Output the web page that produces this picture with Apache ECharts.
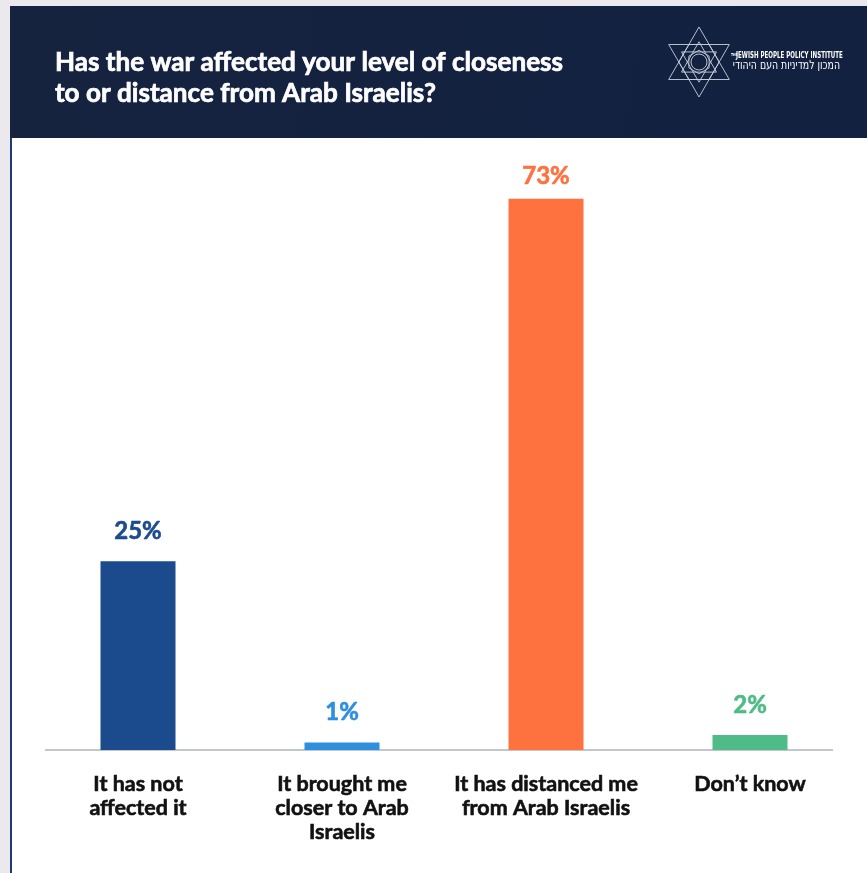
<!DOCTYPE html>
<html>
<head>
<meta charset="utf-8">
<script src="https://cdn.jsdelivr.net/npm/echarts@6/dist/echarts.min.js"></script>
<style>
  html, body { margin: 0; padding: 0; background: #ebe9ee; }
  #chart { width: 867px; height: 873px; }
</style>
</head>
<body>
<div id="chart"></div>
<script>
// Survey answers and shares (percent)
const categories = [
  'It has not\naffected it',
  'It brought me\ncloser to Arab\nIsraelis',
  'It has distanced me\nfrom Arab Israelis',
  'Don\u2019t know'
];
const values = [25, 1, 73, 2];
const barColors = ['#1b4a8d', '#2f8fdd', '#fe7240', '#4fbb87'];

const titleLines = [
  'Has the war affected your level of closeness',
  'to or distance from Arab Israelis?'
];

const FONT = 'Lato, "Noto Sans", sans-serif';

// Star-of-David style emblem for the header
const cx = 699, cy = 62;
function tri(r, up) {
  const pts = [];
  for (let k = 0; k < 3; k++) {
    const rad = ((up ? -90 : 90) + k * 120) * Math.PI / 180;
    pts.push([cx + r * Math.cos(rad), cy + r * Math.sin(rad)]);
  }
  return pts;
}
function hex(r, rot) {
  const pts = [];
  for (let k = 0; k < 6; k++) {
    const rad = (rot + k * 60) * Math.PI / 180;
    pts.push([cx + r * Math.cos(rad), cy + r * Math.sin(rad)]);
  }
  return pts;
}
const emblemStyle = { fill: 'none', stroke: '#c9cfdb', lineWidth: 0.9 };
const emblem = [
  { type: 'polygon', shape: { points: tri(35, true) } },
  { type: 'polygon', shape: { points: tri(35, false) } },
  { type: 'polygon', shape: { points: hex(20.2, 0) } },
  { type: 'polygon', shape: { points: tri(20.2, true) } },
  { type: 'polygon', shape: { points: tri(20.2, false) } },
  { type: 'polygon', shape: { points: hex(11.7, 30) } },
  { type: 'circle', shape: { cx: cx, cy: cy, r: 8 } }
].map(e => Object.assign({ z: 5, style: emblemStyle }, e));

const chart = echarts.init(document.getElementById('chart'), null, { renderer: 'canvas' });

chart.setOption({
  backgroundColor: '#ebe9ee',
  animation: false,
  graphic: [
    { type: 'rect', z: -10, shape: { x: 10, y: 6, width: 857, height: 867 }, style: { fill: '#ffffff' } },
    { type: 'rect', z: -9, shape: { x: 10, y: 6, width: 857, height: 132 },
      style: { fill: new echarts.graphic.LinearGradient(0, 0, 1, 1, [
        { offset: 0, color: '#15233f' }, { offset: 1, color: '#122140' }
      ]) } },
    { type: 'rect', z: -9, shape: { x: 10, y: 138, width: 2, height: 735 }, style: { fill: '#1f3a6e' } },
    { type: 'text', z: 5, x: 55, y: 47,
      style: { text: titleLines.join('\n'), fill: '#ffffff', font: 'bold 26.1px ' + FONT, lineHeight: 31,
        stroke: '#ffffff', lineWidth: 0.7 } },
    { type: 'text', z: 5, x: 731, y: 53, scaleX: 0.75,
      style: { text: 'THE', fill: '#ffffff', font: 'bold 4px "DejaVu Sans", sans-serif' } },
    { type: 'text', z: 5, x: 736, y: 51.5, scaleX: 0.69,
      style: { text: 'JEWISH PEOPLE POLICY INSTITUTE', fill: '#ffffff', font: 'bold 8px "DejaVu Sans", sans-serif' } },
    { type: 'text', z: 5, x: 840, y: 60, scaleX: 0.78,
      style: { text: '\u05D4\u05DE\u05DB\u05D5\u05DF \u05DC\u05DE\u05D3\u05D9\u05E0\u05D9\u05D5\u05EA \u05D4\u05E2\u05DD \u05D4\u05D9\u05D4\u05D5\u05D3\u05D9',
        fill: '#ffffff', align: 'right', font: '12px "DejaVu Sans", sans-serif' } },
    { type: 'line', z: 1, shape: { x1: 45, y1: 750, x2: 833, y2: 750 }, style: { stroke: '#c3c6cb', lineWidth: 2 } }
  ].concat(emblem),
  grid: { left: 36, right: 15, top: 146, bottom: 123, containLabel: false },
  xAxis: {
    type: 'category',
    data: categories,
    axisLine: { show: false },
    axisTick: { show: false },
    axisLabel: {
      interval: 0,
      margin: 22,
      color: '#111111',
      fontFamily: FONT,
      fontWeight: 'bold',
      fontSize: 21.5,
      lineHeight: 24,
      align: 'center',
      textBorderColor: '#111111',
      textBorderWidth: 0.6
    }
  },
  yAxis: {
    type: 'value',
    min: 0,
    max: 80,
    show: false,
    splitLine: { show: false }
  },
  series: [{
    type: 'bar',
    barWidth: 75,
    data: values.map((v, i) => ({
      value: v,
      itemStyle: { color: barColors[i] },
      label: { color: barColors[i], textBorderColor: barColors[i], distance: i === 2 ? 11 : 18 }
    })),
    label: {
      show: true,
      position: 'top',
      formatter: '{c}%',
      fontFamily: FONT,
      fontWeight: 'bold',
      fontSize: 24,
      textBorderWidth: 0.6
    }
  }]
});
</script>
</body>
</html>
